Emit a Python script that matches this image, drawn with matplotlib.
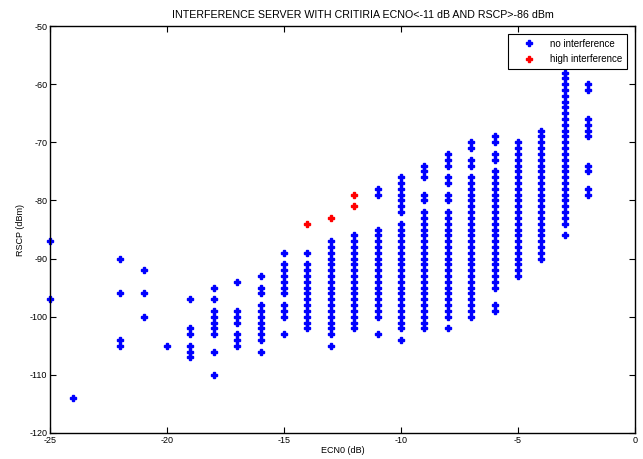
import numpy as np
from matplotlib import pyplot as plt

plt.rcParams["font.family"] = ["Liberation Sans", "DejaVu Sans"]
plt.rcParams["axes.unicode_minus"] = False

# RSCP samples (dBm) per ECN0 column (dB), no interference
ecno_cols = [-25, -24, -22, -21, -20, -19, -18, -17, -16, -15, -14, -13,
             -12, -11, -10, -9, -8, -7, -6, -5, -4, -3, -2]
rscp_m25 = [-87, -97]
rscp_m24 = [-114]
rscp_m22 = [-90, -96, -104, -105]
rscp_m21 = [-92, -96, -100]
rscp_m20 = [-105]
rscp_m19 = [-97, -102, -103, -105, -106, -107]
rscp_m18 = [-95, -97, -99, -100, -101, -102, -103, -106, -110]
rscp_m17 = [-94, -99, -100, -101, -103, -104, -105]
rscp_m16 = [-93, -95, -96, -98, -99, -100, -101, -102, -103, -104, -106]
rscp_m15 = [-89, -91, -92, -93, -94, -95, -96, -98, -99, -100, -103]
rscp_m14 = [-89, -91, -92, -93, -94, -95, -96, -97, -98, -99, -100, -101, -102]
rscp_m13 = [-87, -88, -89, -90, -91, -92, -93, -94, -95, -96, -97, -98, -99,
            -100, -101, -102, -103, -105]
rscp_m12 = [-86, -87, -88, -89, -90, -91, -92, -93, -94, -95, -96, -97, -98,
            -99, -100, -101, -102]
rscp_m11 = [-78, -79, -85, -86, -87, -88, -89, -90, -91, -92, -93, -94, -95,
            -96, -97, -98, -99, -100, -103]
rscp_m10 = [-76, -77, -78, -79, -80, -81, -82, -84, -85, -86, -87, -88, -89,
            -90, -91, -92, -93, -94, -95, -96, -97, -98, -99, -100, -101,
            -102, -104]
rscp_m9 = [-74, -75, -76, -79, -80, -82, -83, -84, -85, -86, -87, -88, -89,
           -90, -91, -92, -93, -94, -95, -96, -97, -98, -99, -100, -101, -102]
rscp_m8 = [-72, -73, -74, -76, -77, -79, -80, -82, -83, -84, -85, -86, -87,
           -88, -89, -90, -91, -92, -93, -94, -95, -96, -97, -98, -99, -100,
           -102]
rscp_m7 = [-70, -71, -73, -74, -76, -77, -78, -79, -80, -81, -82, -83, -84,
           -85, -86, -87, -88, -89, -90, -91, -92, -93, -94, -95, -96, -97,
           -98, -99, -100]
rscp_m6 = [-69, -70, -72, -73, -75, -76, -77, -78, -79, -80, -81, -82, -83,
           -84, -85, -86, -87, -88, -89, -90, -91, -92, -93, -94, -95, -98, -99]
rscp_m5 = [-70, -71, -72, -73, -74, -75, -76, -77, -78, -79, -80, -81, -82,
           -83, -84, -85, -86, -87, -88, -89, -90, -91, -92, -93]
rscp_m4 = [-68, -69, -70, -71, -72, -73, -74, -75, -76, -77, -78, -79, -80,
           -81, -82, -83, -84, -85, -86, -87, -88, -89, -90]
rscp_m3 = [-58, -59, -60, -61, -62, -63, -64, -65, -66, -67, -68, -69, -70,
           -71, -72, -73, -74, -75, -76, -77, -78, -79, -80, -81, -82, -83,
           -84, -86]
rscp_m2 = [-60, -61, -66, -67, -68, -69, -74, -75, -78, -79]

rscp_cols = [rscp_m25, rscp_m24, rscp_m22, rscp_m21, rscp_m20, rscp_m19,
             rscp_m18, rscp_m17, rscp_m16, rscp_m15, rscp_m14, rscp_m13,
             rscp_m12, rscp_m11, rscp_m10, rscp_m9, rscp_m8, rscp_m7,
             rscp_m6, rscp_m5, rscp_m4, rscp_m3, rscp_m2]

# high interference samples
ecno_high = [-14, -13, -12, -12]
rscp_high = [-84, -83, -79, -81]

ecno_ok = np.concatenate([[x] * len(r) for x, r in zip(ecno_cols, rscp_cols)])
rscp_ok = np.concatenate(rscp_cols)

fig = plt.figure(figsize=(6.43, 4.59), dpi=100)
ax = fig.add_axes([50 / 643, 1 - 433 / 459, 585 / 643, 407 / 459])

ax.plot(ecno_ok, rscp_ok, linestyle="none", marker="P", markersize=4.5,
        color="#0000ff", label="no interference", clip_on=False)
ax.plot(ecno_high, rscp_high, linestyle="none", marker="P", markersize=4.5,
        color="#ff0000", label="high interference", clip_on=False)

ax.set_xlim(-25, 0)
ax.set_ylim(-120, -50)
ax.set_xticks(range(-25, 1, 5))
ax.set_yticks(range(-120, -49, 10))
ax.tick_params(direction="in", top=True, right=True, length=4, labelsize=6.5,
               pad=2)
for s in ax.spines.values():
    s.set_linewidth(1.0)

ax.set_title("INTERFERENCE SERVER WITH CRITIRIA ECNO<-11 dB AND RSCP>-86 dBm",
             fontsize=7.7, pad=6, x=0.535)
ax.set_xlabel("ECN0 (dB)", fontsize=6.5, labelpad=1)
ax.set_ylabel("RSCP (dBm)", fontsize=6.5, labelpad=3)

leg = ax.legend(loc="upper right", fontsize=7, fancybox=False,
                edgecolor="black", framealpha=1, handlelength=3.2,
                handletextpad=0.6, borderaxespad=0.8, borderpad=0.5,
                labelspacing=0.6)
leg.get_frame().set_linewidth(0.8)

plt.savefig("out.png", dpi=100)
